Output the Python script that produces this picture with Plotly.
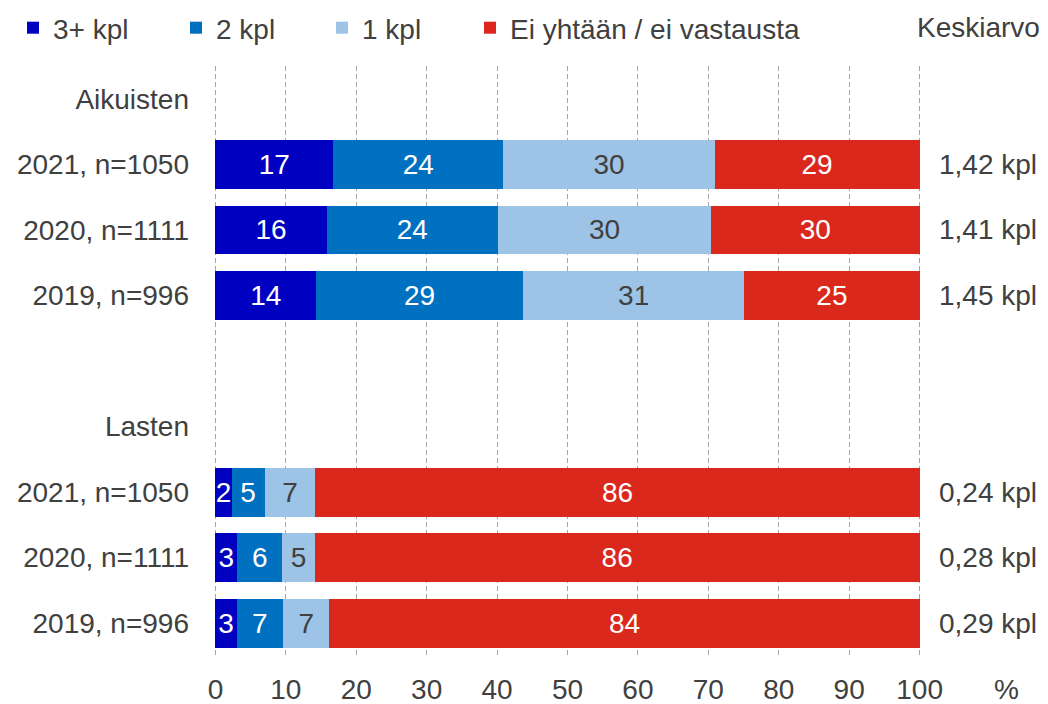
import plotly.graph_objects as go

# Response categories (stack order, left to right)
series_names = ["3+ kpl", "2 kpl", "1 kpl", "Ei yhtään / ei vastausta"]
series_colors = ["#0000C0", "#0070C0", "#9DC3E6", "#DA291C"]
label_colors = ["#FFFFFF", "#FFFFFF", "#404040", "#FFFFFF"]

# Groups and survey rounds
group_names = ["Aikuisten", "Lasten"]
row_labels = ["2021, n=1050", "2020, n=1111", "2019, n=996"]

# Shares (%) per category, rows in the order of row_labels
adult_values = [
    [16.7, 15.8, 14.3],
    [24.2, 24.3, 29.4],
    [30.0, 30.3, 31.4],
    [29.1, 29.6, 24.9],
]
child_values = [
    [2.3, 3.1, 3.0],
    [4.7, 6.4, 6.6],
    [7.2, 4.6, 6.6],
    [85.8, 85.9, 83.8],
]

# Mean number per row
adult_means = ["1,42 kpl", "1,41 kpl", "1,45 kpl"]
child_means = ["0,24 kpl", "0,28 kpl", "0,29 kpl"]
mean_title = "Keskiarvo"

x_ticks = [0, 10, 20, 30, 40, 50, 60, 70, 80, 90, 100]
x_unit = "%"

# ---- row layout: header row, three data rows, blank spacer, next group ----
adult_header_y = 8
adult_rows_y = [7, 6, 5]
child_header_y = 3
child_rows_y = [2, 1, 0]

FONT = "Liberation Sans, Arial, sans-serif"
TEXT = "#404040"
FS = 28

W, H = 1048, 704
ML, MR, MT, MB = 214, 127, 66, 48
PW, PH = W - ML - MR, H - MT - MB


def px_x(px):
    return (px - ML) / PW


def px_y(py):
    return 1 - (py - MT) / PH


fig = go.Figure()

legend_ids = ["legend", "legend2", "legend3", "legend4"]
legend_left_px = [13, 176, 322, 470]

for i, name in enumerate(series_names):
    xs = adult_values[i] + child_values[i]
    ys = adult_rows_y + child_rows_y
    fig.add_trace(go.Bar(
        x=xs,
        y=ys,
        orientation="h",
        name=name,
        marker=dict(color=series_colors[i], line=dict(width=0)),
        text=[f"{v:.0f}" for v in xs],
        textposition="inside",
        insidetextanchor="middle",
        textangle=0,
        insidetextfont=dict(family=FONT, size=FS, color=label_colors[i]),
        legend=legend_ids[i],
        hoverinfo="skip",
    ))

tick_vals = [adult_header_y] + adult_rows_y + [child_header_y] + child_rows_y
tick_text = [group_names[0]] + row_labels + [group_names[1]] + row_labels

annotations = []
for ys, means in ((adult_rows_y, adult_means), (child_rows_y, child_means)):
    for y, m in zip(ys, means):
        annotations.append(dict(
            x=px_x(937), xref="paper", y=y, yref="y",
            text=m, showarrow=False, xanchor="left", yanchor="middle",
            font=dict(family=FONT, size=FS, color=TEXT),
        ))
annotations.append(dict(
    x=px_x(915), xref="paper", y=px_y(28), yref="paper",
    text=mean_title, showarrow=False, xanchor="left", yanchor="middle",
    font=dict(family=FONT, size=FS, color=TEXT),
))
annotations.append(dict(
    x=px_x(1006), xref="paper", y=px_y(689), yref="paper",
    text=x_unit, showarrow=False, xanchor="center", yanchor="middle",
    height=28, borderpad=0,
    font=dict(family=FONT, size=FS, color=TEXT),
))

legend_common = dict(
    orientation="h", yanchor="middle", xanchor="left",
    font=dict(family=FONT, size=FS, color=TEXT),
    bgcolor="rgba(0,0,0,0)", borderwidth=0, itemwidth=30,
    itemclick=False, itemdoubleclick=False,
)
layout_legends = {}
for lid, lx in zip(legend_ids, legend_left_px):
    layout_legends[lid] = dict(legend_common, x=px_x(lx), y=px_y(28))

fig.update_layout(
    width=W, height=H,
    margin=dict(l=ML, r=MR, t=MT, b=MB, pad=0, autoexpand=False),
    paper_bgcolor="white", plot_bgcolor="white",
    barmode="stack", bargap=0.256,
    showlegend=True,
    font=dict(family=FONT, size=FS, color=TEXT),
    uniformtext=dict(minsize=FS, mode="show"),
    annotations=annotations,
    xaxis=dict(
        # a little padding keeps the 0 and 100 grid lines drawn
        range=[-0.2, 100.2], tickvals=x_ticks,
        ticktext=[str(t) for t in x_ticks],
        showgrid=True, gridcolor="#A6A6A6", gridwidth=1, griddash="5px,3px",
        zeroline=False, showline=False, ticks="", ticklabelstandoff=14,
        tickfont=dict(family=FONT, size=FS, color=TEXT), automargin=False,
        fixedrange=True,
    ),
    yaxis=dict(
        range=[-0.5, 8.5], tickvals=tick_vals, ticktext=tick_text,
        showgrid=False, zeroline=False, showline=False, ticks="",
        ticklabelstandoff=24,
        tickfont=dict(family=FONT, size=FS, color=TEXT), automargin=False,
        fixedrange=True,
    ),
    **layout_legends,
)

fig.write_html("out.html", config={"displayModeBar": False})
